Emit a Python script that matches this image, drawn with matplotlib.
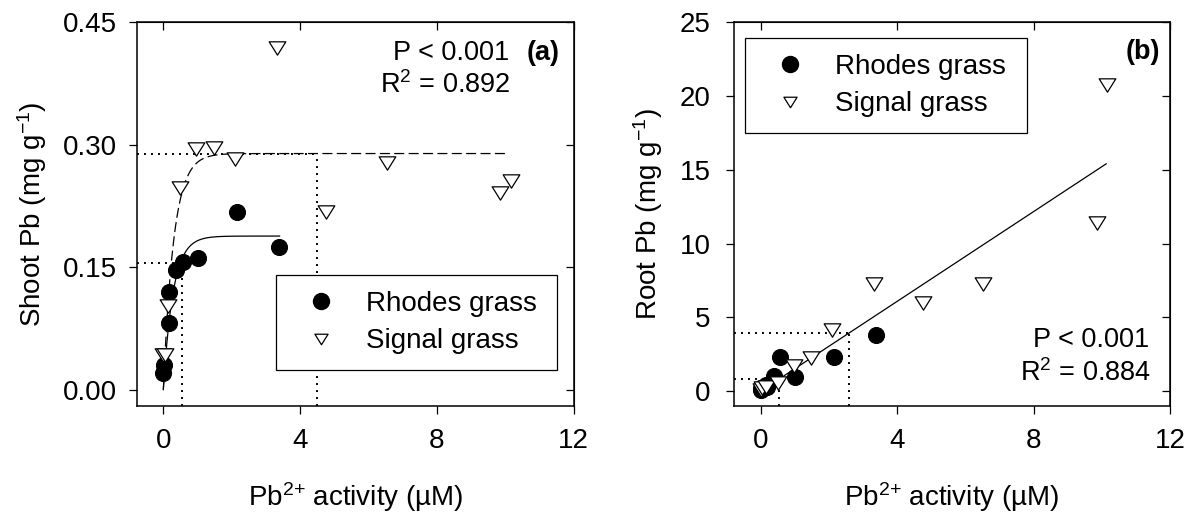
import numpy as np
import matplotlib
matplotlib.use("Agg")
import matplotlib.pyplot as plt
from matplotlib.lines import Line2D
from matplotlib.path import Path

plt.rcParams['font.family'] = ['Liberation Sans', 'DejaVu Sans']
plt.rcParams['mathtext.fontset'] = 'custom'
plt.rcParams['mathtext.rm'] = 'Liberation Sans'
plt.rcParams['mathtext.it'] = 'Liberation Sans:italic'
plt.rcParams['mathtext.bf'] = 'Liberation Sans:bold'

# ---------------- data ----------------
rhodes_activity = [0.00, 0.02, 0.16, 0.18, 0.38, 0.57, 1.02, 2.16, 3.38]
rhodes_shoot = [0.020, 0.030, 0.119, 0.082, 0.146, 0.156, 0.161, 0.218, 0.175]
rhodes_root = [0.10, 0.20, 0.45, 0.30, 1.00, 2.33, 0.97, 2.33, 3.84]

signal_activity = [0.00, 0.05, 0.15, 0.50, 0.97, 1.47, 2.09, 3.33, 4.77, 6.53, 9.86, 10.16]
signal_shoot = [0.042, 0.042, 0.102, 0.247, 0.294, 0.296, 0.282, 0.418, 0.218, 0.278, 0.241, 0.256]
signal_root = [0.10, 0.20, 0.30, 0.57, 1.74, 2.26, 4.17, 7.27, 5.95, 7.29, 11.39, 20.75]

# fitted models (asymptote, rate) for shoot, (slope, intercept) for root
rhodes_shoot_fit = (0.188, 3.5)
signal_shoot_fit = (0.289, 3.3)
rhodes_fit_range = (0.0, 3.4)
signal_fit_range = (0.0, 10.0)
root_fit = (1.52, 0.0)
root_fit_range = (0.0, 10.13)

# dotted reference guides (x, y)
shoot_guides = [(0.55, 0.155), (4.5, 0.289)]
root_guides = [(0.54, 0.84), (2.59, 3.95)]

x_ticks = [0, 4, 8, 12]
shoot_ticks = [0.00, 0.15, 0.30, 0.45]
root_ticks = [0, 5, 10, 15, 20, 25]
legend_labels = ['Rhodes grass', 'Signal grass']

# ---------------- figure ----------------
W, H = 1195, 516
fig = plt.figure(figsize=(W / 100, H / 100), dpi=100)


def frac(x0, y0, x1, y1):
    return [x0 / W, 1 - y1 / H, (x1 - x0) / W, (y1 - y0) / H]


axA = fig.add_axes(frac(137, 22, 573.6, 406))
axB = fig.add_axes(frac(734.3, 22, 1170, 406))

tri = Path([(-1, 0.8), (1, 0.8), (0, -0.8), (-1, 0.8)],
           [Path.MOVETO, Path.LINETO, Path.LINETO, Path.CLOSEPOLY])

FS = 20
dotted = (0, (1, 2.6))
XLABEL = r'Pb$\mathregular{^{2{+}}}$ activity (µM)'


def style_axes(ax, yticks, ylim, ypad):
    ax.set_xlim(-0.77, 12)
    ax.set_ylim(*ylim)
    ax.set_xticks(x_ticks)
    ax.set_yticks(yticks)
    for s in ax.spines.values():
        s.set_linewidth(1.1)
    ax.tick_params(axis='both', direction='out', length=5.5, width=0.9,
                   labelsize=FS)
    ax.tick_params(axis='x', pad=10)
    ax.tick_params(axis='y', pad=ypad)
    sx = ax.secondary_xaxis('top')
    sx.set_xticks(x_ticks, labels=[])
    sx.tick_params(direction='in', length=5.5, width=0.9)
    sy = ax.secondary_yaxis('right')
    sy.set_yticks(yticks, labels=[])
    sy.tick_params(direction='in', length=5.5, width=0.9)


def plot_points(ax, rx, ry, sx, sy):
    ax.plot(rx, ry, ls='none', marker='o', ms=11.5, mfc='black', mec='black',
            mew=0.8, zorder=4)
    ax.plot(sx, sy, ls='none', marker=tri, ms=12, mfc='white', mec='black',
            mew=0.9, zorder=5)


def guides(ax, pts, ylo, xlo):
    for gx, gy in pts:
        ax.plot([xlo, gx], [gy, gy], ls=dotted, color='black', lw=1.4, zorder=2)
        ax.plot([gx, gx], [ylo, gy], ls=dotted, color='black', lw=1.4, zorder=2)


def legend(ax, anchor, loc):
    handles = [Line2D([], [], ls='none', marker='o', ms=11.5, mfc='black', mec='black'),
               Line2D([], [], ls='none', marker=tri, ms=9.5, mfc='white', mec='black', mew=0.9)]
    leg = ax.legend(handles, legend_labels, loc=loc, bbox_to_anchor=anchor,
                    mode='expand', fontsize=FS, frameon=True, fancybox=False,
                    edgecolor='black', framealpha=1, borderpad=0.565,
                    handlelength=2.11, handletextpad=0.565, labelspacing=0.41,
                    borderaxespad=0)
    leg.get_frame().set_linewidth(0.9)
    leg.set_zorder(10)


# ---------------- panel (a) ----------------
style_axes(axA, shoot_ticks, (-0.02, 0.45), 9)
axA.yaxis.set_major_formatter(matplotlib.ticker.FormatStrFormatter('%.2f'))
guides(axA, shoot_guides, -0.02, -0.77)
xr = np.linspace(*rhodes_fit_range, 200)
axA.plot(xr, rhodes_shoot_fit[0] * (1 - np.exp(-rhodes_shoot_fit[1] * xr)),
         color='black', lw=0.9, zorder=3)
xs = np.linspace(*signal_fit_range, 400)
axA.plot(xs, signal_shoot_fit[0] * (1 - np.exp(-signal_shoot_fit[1] * xs)),
         color='black', lw=0.9, ls=(0, (8, 3.5)), zorder=3)
plot_points(axA, rhodes_activity, rhodes_shoot, signal_activity, signal_shoot)
legend(axA, (0.3177, 0.09375, 0.645, 0.25), 'lower left')
axA.text(0.853, 0.901, 'P < 0.001', transform=axA.transAxes, ha='right',
         va='baseline', fontsize=19.5)
axA.text(0.969, 0.901, '(a)', transform=axA.transAxes, ha='right',
         va='baseline', fontsize=19.5, fontweight='bold')
axA.text(0.856, 0.814, r'R$\mathregular{^2}$ = 0.892', transform=axA.transAxes,
         ha='right', va='baseline', fontsize=19.5)
axA.set_ylabel(r'Shoot Pb (mg g$\mathregular{^{-1}}$)', fontsize=FS, va='center')
axA.yaxis.set_label_coords((31.7 - 137) / 436.6, 0.5)
axA.set_xlabel(XLABEL, fontsize=FS, va='center')
axA.xaxis.set_label_coords(0.5, (406 - 496.7) / 384)

# ---------------- panel (b) ----------------
style_axes(axB, root_ticks, (-1, 25), 11.5)
guides(axB, root_guides, -1, -0.77)
xl = np.linspace(*root_fit_range, 50)
axB.plot(xl, root_fit[0] * xl + root_fit[1], color='black', lw=0.9, zorder=3)
plot_points(axB, rhodes_activity, rhodes_root, signal_activity, signal_root)
legend(axB, (0.0246, 0.71, 0.648, 0.2476), 'upper left')
axB.text(0.977, 0.903, '(b)', transform=axB.transAxes, ha='right',
         va='baseline', fontsize=19.5, fontweight='bold')
axB.text(0.9525, 0.1545, 'P < 0.001', transform=axB.transAxes, ha='right',
         va='baseline', fontsize=19.5)
axB.text(0.9557, 0.066, r'R$\mathregular{^2}$ = 0.884', transform=axB.transAxes,
         ha='right', va='baseline', fontsize=19.5)
axB.set_ylabel(r'Root Pb (mg g$\mathregular{^{-1}}$)', fontsize=FS, va='center')
axB.yaxis.set_label_coords((648.3 - 734.3) / 435.7, 0.5)
axB.set_xlabel(XLABEL, fontsize=FS, va='center')
axB.xaxis.set_label_coords(0.5, (406 - 496.7) / 384)

fig.savefig('out.png', dpi=100)
